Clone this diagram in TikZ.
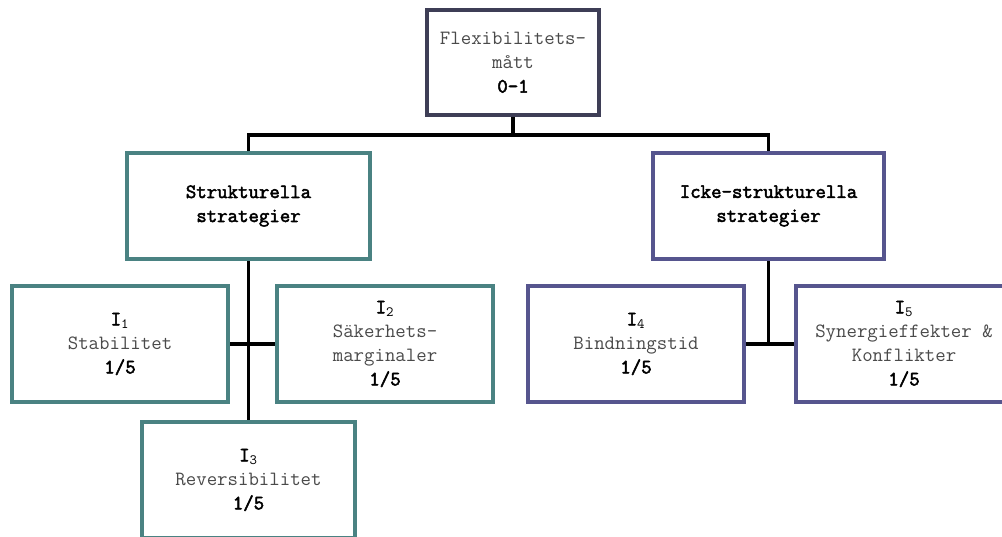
\documentclass[tikz,border=0pt]{standalone}
\usepackage{fontspec}
\setmonofont{Latin Modern Mono}[BoldFont=Latin Modern Mono, BoldFeatures={FakeBold=2.5}]
\definecolor{topc}{HTML}{3E3E56}
\definecolor{tealc}{HTML}{4A8282}
\definecolor{purpc}{HTML}{56558E}
\definecolor{txtc}{HTML}{4A4A4A}
\tikzset{
  box/.style={draw, line width=3pt, fill=white, align=center, inner sep=0pt,
    font=\ttfamily\fontsize{15.2}{18}\selectfont, text=txtc},
  topbox/.style={box, draw=topc, minimum width=129pt, minimum height=79pt},
  stratbox/.style={box, minimum height=79.5pt},
  indbox/.style={box, minimum width=162pt, minimum height=87pt},
  link/.style={line width=2.5pt, black}
}
\newcommand{\bl}[1]{\textbf{\textcolor{black}{#1}}}
\newcommand{\ind}[1]{\textbf{\textcolor{black}{I}}\textsubscript{\textcolor{black}{#1}}}
\begin{document}
\begin{tikzpicture}[x=0.75pt,y=-0.75pt]
\useasboundingbox (0,0) rectangle (1002,536);

% top level
\node[topbox] (top) at (513,62.5) {Flexibilitets-\\mått\\\bl{0-1}};

% strategy groups
\node[stratbox, draw=tealc, minimum width=182pt] (str) at (248.5,206)
  {\bl{Strukturella}\\\bl{strategier}};
\node[stratbox, draw=purpc, minimum width=173pt] (icke) at (768.5,206)
  {\bl{Icke-strukturella}\\\bl{strategier}};

% indicators
\node[indbox, draw=tealc] (i1) at (120,344) {\ind{1}\\Stabilitet\\\bl{1/5}};
\node[indbox, draw=tealc] (i2) at (385,344) {\ind{2}\\Säkerhets-\\marginaler\\\bl{1/5}};
\node[indbox, draw=tealc, minimum width=160pt] (i3) at (248.5,480) {\ind{3}\\Reversibilitet\\\bl{1/5}};
\node[indbox, draw=purpc] (i4) at (636,344) {\ind{4}\\Bindningstid\\\bl{1/5}};
\node[indbox, draw=purpc] (i5) at (904,344) {\ind{5}\\Synergieffekter \&\\Konflikter\\\bl{1/5}};

% tree connectors
\coordinate (bus) at (513,135);
\draw[link] (top.south) -- (bus);
\draw[link] (str.north) |- (bus) -| (icke.north);
\draw[link] (str.south) -- (i3.north);
\draw[link] (i1.east) -- (i2.west);
\draw[link] (icke.south) -- (icke.south |- i4.east);
\draw[link] (i4.east) -- (i5.west);
\end{tikzpicture}
\end{document}
